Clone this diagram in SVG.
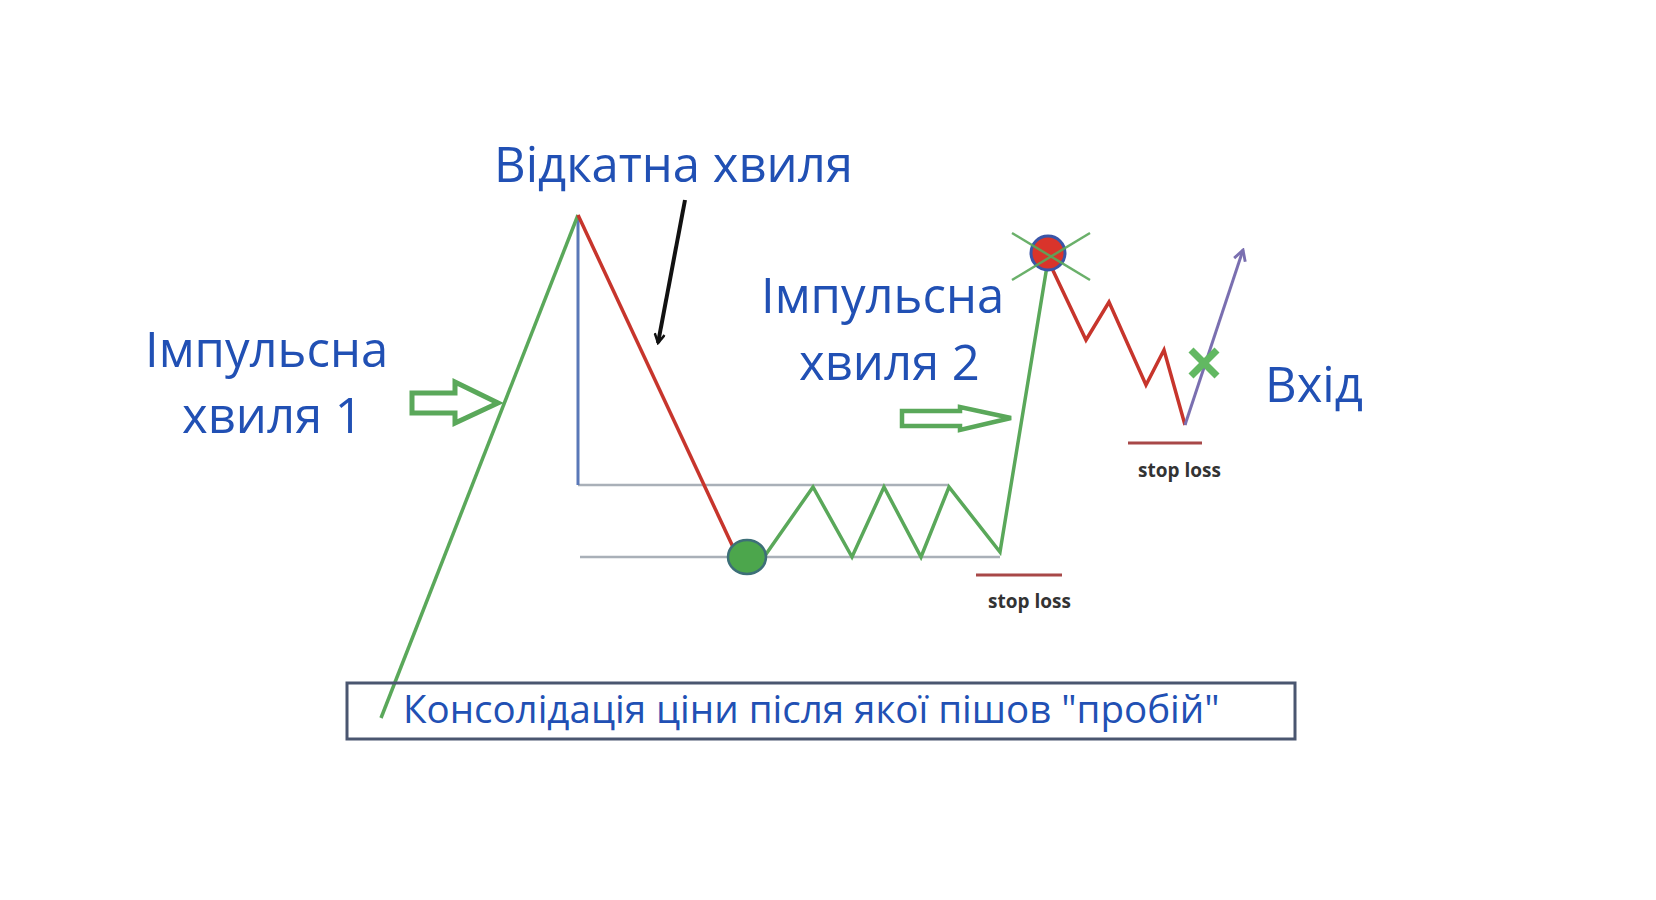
<svg xmlns="http://www.w3.org/2000/svg" width="1656" height="900" viewBox="0 0 1656 900">
<style>
.lbl{font-family:"Open Sans","Noto Sans","DejaVu Sans",sans-serif;fill:#2150b4;font-size:49px}
.sl{font-family:"Open Sans","Noto Sans","DejaVu Sans",sans-serif;fill:#333;font-size:19px;font-weight:bold}
.g{fill:none;stroke:#5aa85a;stroke-width:3.5;stroke-linejoin:miter}
.r{fill:none;stroke:#c7352c;stroke-width:3.5}
.gray{stroke:#a9b0b8;stroke-width:2.5;fill:none}
.stop{stroke:#a84848;stroke-width:3}
.hollow{fill:#ffffff;stroke:#5aa85a;stroke-width:5;stroke-linejoin:miter}
</style>
<defs>
<marker id="blk" viewBox="0 0 12 12" refX="10" refY="6" markerWidth="12" markerHeight="12" markerUnits="userSpaceOnUse" orient="auto">
<path d="M1,1 L10,6 L1,11" fill="none" stroke="#111" stroke-width="2.5"/>
</marker>
<marker id="pur" viewBox="0 0 12 12" refX="10" refY="6" markerWidth="14" markerHeight="14" markerUnits="userSpaceOnUse" orient="auto">
<path d="M1,1 L10,6 L1,11" fill="none" stroke="#7a6fb0" stroke-width="2.5"/>
</marker>
</defs>
<rect width="1656" height="900" fill="#ffffff"/>

<g id="connectors">
<line class="gray" x1="578" y1="485" x2="949" y2="485"/>
<line class="gray" x1="580" y1="557" x2="1000" y2="557"/>
<line x1="578" y1="215" x2="578" y2="485" stroke="#5a78b8" stroke-width="3"/>
<polyline class="g" points="381,718 578,215"/>
<polyline class="r" points="578,215 733,547"/>
<polyline class="g" points="764,557 813,487 852,557 884,487 921,557 949,487 1000,552 1048,260"/>
<polyline class="r" points="1048,260 1086,340 1109,302 1146,385 1164,350 1185,425"/>
<line x1="1185" y1="425" x2="1243" y2="250" stroke="#7a6fb0" stroke-width="3" marker-end="url(#pur)"/>
<line x1="685" y1="200" x2="658" y2="343" stroke="#111" stroke-width="4" marker-end="url(#blk)"/>
<line class="stop" x1="976" y1="575" x2="1062" y2="575"/>
<line class="stop" x1="1128" y1="443" x2="1202" y2="443"/>
</g>

<g id="arrow1">
<path class="hollow" d="M412,393 L455,393 L455,382 L498,403 L455,423 L455,413 L412,413 Z"/>
</g>
<g id="arrow2">
<path class="hollow" d="M902,411 L960,411 L960,407 L1011,418 L960,430 L960,426 L902,426 Z" style="stroke-width:4.5"/>
</g>

<g id="low-point">
<ellipse cx="747" cy="557" rx="19" ry="17" fill="#4ca64c" stroke="#3d6f78" stroke-width="2.5"/>
</g>
<g id="high-point">
<circle cx="1048" cy="253" r="17" fill="#d9342b" stroke="#3a55a8" stroke-width="3"/>
<line x1="1012" y1="233" x2="1090" y2="280" stroke="#5aa85a" stroke-width="2.5" opacity="0.9"/>
<line x1="1090" y1="233" x2="1012" y2="280" stroke="#5aa85a" stroke-width="2.5" opacity="0.9"/>
</g>
<g id="entry-x">
<line x1="1191" y1="350" x2="1217" y2="376" stroke="#62b862" stroke-width="7"/>
<line x1="1217" y1="350" x2="1191" y2="376" stroke="#62b862" stroke-width="7"/>
</g>

<g id="label-retrace"><text class="lbl" x="494" y="182">Відкатна хвиля</text></g>
<g id="label-impulse1">
<text class="lbl" x="145" y="367">Імпульсна</text>
<text class="lbl" x="182" y="433">хвиля 1</text>
</g>
<g id="label-impulse2">
<text class="lbl" x="761" y="313">Імпульсна</text>
<text class="lbl" x="799" y="380">хвиля 2</text>
</g>
<g id="label-entry"><text class="lbl" x="1265" y="402">Вхід</text></g>
<g id="stop1"><text class="sl" x="988" y="608">stop loss</text></g>
<g id="stop2"><text class="sl" x="1138" y="477">stop loss</text></g>

<g id="consolidation-box">
<rect x="347" y="683" width="948" height="56" fill="none" stroke="#4a5670" stroke-width="3"/>
<text x="403" y="723" font-family="'Open Sans','Noto Sans','DejaVu Sans',sans-serif" font-size="38.5" fill="#2150b4">Консолідація ціни після якої пішов "пробій"</text>
</g>
</svg>
